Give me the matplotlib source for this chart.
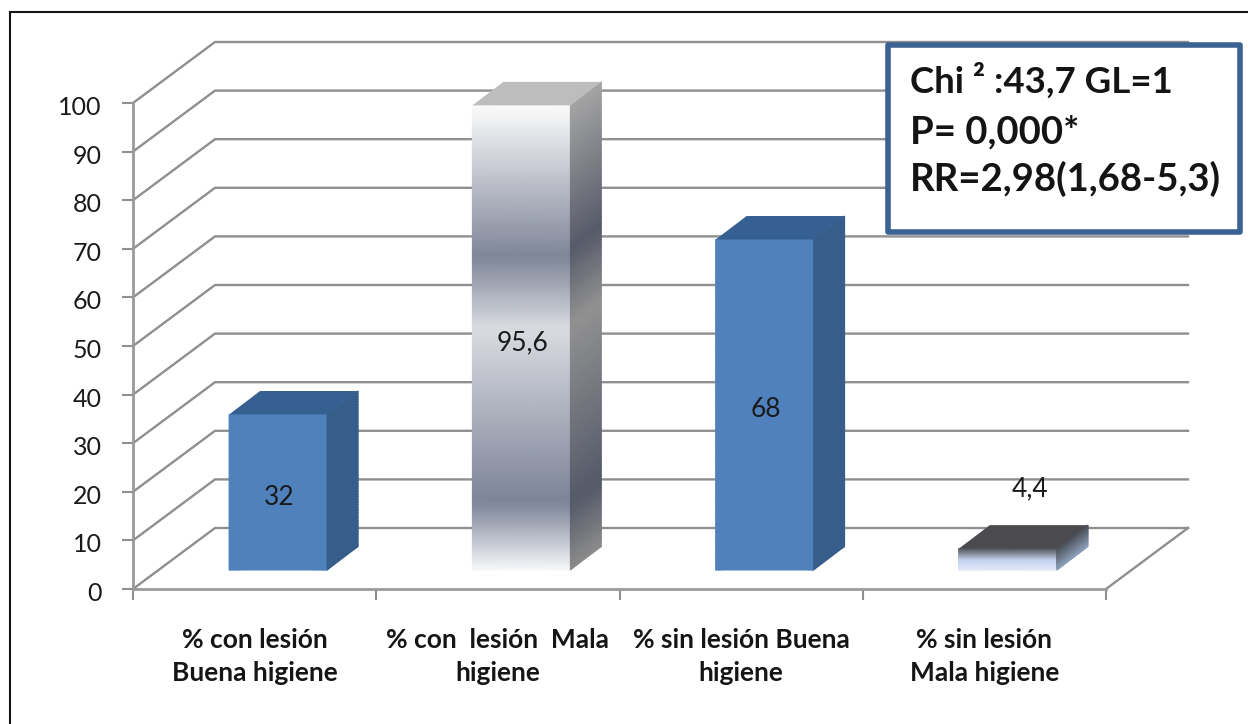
import numpy as np
import matplotlib
matplotlib.use("Agg")
import matplotlib.pyplot as plt
from matplotlib.colors import LinearSegmentedColormap as LSC
from matplotlib.lines import Line2D
from matplotlib.patches import Rectangle, Polygon
from matplotlib.transforms import ScaledTranslation

categories = ["% con lesión\nBuena higiene", "% con  lesión  Mala\nhigiene",
              "% sin lesión Buena\nhigiene", "% sin lesión\nMala higiene"]
values = [32, 95.6, 68, 4.4]
value_labels = ["32", "95,6", "68", "4,4"]
y_ticks = list(range(0, 101, 10))
stats_lines = ["Chi ² :43,7 GL=1", "P= 0,000*", "RR=2,98(1,68-5,3)"]

W, H = 1248, 724
plt.rcParams['font.family'] = ['Lato', 'DejaVu Sans']
fig = plt.figure(figsize=(W / 100, H / 100), dpi=100, facecolor='white')
L, R, B, T = 133, 1106, 589, 103
ax = fig.add_axes([L / W, 1 - B / H, (R - L) / W, (B - T) / H])
ax.set_xlim(0, 4)
ax.set_ylim(0, 100)
ax.patch.set_visible(False)
px = 4 / (R - L)      # data units per pixel, x
py = 100 / (B - T)    # data units per pixel, y

GRID = '#8f8f8f'
wall_dx, wall_dy = 82 * px, 61 * py
for v in y_ticks:
    ax.plot([0, wall_dx, 4 + wall_dx], [v, v + wall_dy, v + wall_dy], color=GRID, lw=1.7,
            clip_on=False, zorder=1, solid_joinstyle='miter')
ax.plot([4, 4 + wall_dx], [0, wall_dy], color=GRID, lw=1.7, clip_on=False, zorder=1)

for s in ['top', 'right']:
    ax.spines[s].set_visible(False)
for s in ['left', 'bottom']:
    ax.spines[s].set_color('#9a9a9a')
    ax.spines[s].set_linewidth(2)
ax.set_yticks(y_ticks)
ax.set_xticks(range(5))
ax.set_xticklabels([])
ax.set_xticks(np.arange(4) + 0.5, categories, minor=True, fontsize=19, fontweight='bold',
              color='#151515', linespacing=1.46)
ax.tick_params(axis='x', which='major', length=8, width=1.5, color=GRID)
ax.tick_params(axis='x', which='minor', length=0, pad=28)
ax.tick_params(axis='y', length=8, width=1.5, color=GRID, labelsize=18, labelcolor='#1a1a1a', pad=14.4)
nudge = ScaledTranslation(0, -2.5 / 100, fig.dpi_scale_trans)
for lab in ax.get_yticklabels():
    lab.set_transform(lab.get_transform() + nudge)

bar_w = 98 * px
bar_off = 23.5 * px
base = 19 * py
depth_x, depth_y = 31 * px, 23.5 * py

blue_front = [(0, '#4f81bd'), (1, '#4f81bd')]
blue_side = [(0, '#375d8b'), (1, '#375d8b')]
gray_front = [(0, '#f6f7f9'), (0.145, '#7c8398'), (0.52, '#dadce1'), (0.675, '#7f8699'), (1, '#fbfbfb')]
gray_side = [(0, '#8c8c8c'), (0.14, '#555a69'), (0.53, '#929292'), (0.69, '#575b69'), (1, '#a4a4a4')]
dark_front = [(0, '#e2eafa'), (0.5, '#c3d3ee'), (1, '#5a5c62')]
dark_side = [(0, '#8fa3bf'), (1, '#4d535c')]
faces = [(blue_front, blue_side, '#376092'), (gray_front, gray_side, '#bdbdbd'),
         (blue_front, blue_side, '#376092'), (dark_front, dark_side, '#4b4b4f')]


def shade(xl, xr, y0, y1, skew, stops, z):
    """Vertical gradient across a quad whose right edge is raised by skew."""
    cmap = LSC.from_list('g', stops)
    f = np.linspace(0, 1, 60)
    Y = y0 + f * (y1 - y0)
    X = np.column_stack([np.full(60, xl), np.full(60, xr)])
    YY = np.column_stack([Y, Y + skew])
    C = np.column_stack([f, f])
    ax.pcolormesh(X, YY, C, cmap=cmap, vmin=0, vmax=1, shading='gouraud', clip_on=False, zorder=z)


for i, (v, (front, side, top)) in enumerate(zip(values, faces)):
    xl = i + 0.5 + bar_off - bar_w / 2
    xr = xl + bar_w
    y0, y1 = base, base + v
    shade(xl, xr, y0, y1, 0, front, 3)
    shade(xr, xr + depth_x, y0, y1, depth_y, side, 3)
    ax.add_patch(Polygon([(xl, y1), (xr, y1), (xr + depth_x, y1 + depth_y), (xl + depth_x, y1 + depth_y)],
                         closed=True, facecolor=top, edgecolor='none', clip_on=False, zorder=3))
    if i < 3:
        lx, ly = i + 0.5 + bar_off + 1 * px, base + v / 2 - 5 * py
    else:
        lx, ly = i + 0.5 + bar_off + 22 * px, base + v + 60 * py
    ax.text(lx, ly, value_labels[i], ha='center', va='center', fontsize=19, color='#1a1a1a', zorder=4)

fig.add_artist(Line2D([9.5 / W, 9.5 / W, 1], [0, 1 - 11.5 / H, 1 - 11.5 / H], transform=fig.transFigure,
                      color='#151515', lw=1.5, zorder=-1, solid_joinstyle='miter'))
fig.add_artist(Rectangle((888 / W, 1 - 232 / H), 352 / W, 187 / H, transform=fig.transFigure,
                         facecolor='white', edgecolor='#3a6292', lw=4, zorder=5, joinstyle='round'))
for line, yb, fs in zip(stats_lines, [93, 143, 191], [26.4, 27.5, 27.5]):
    fig.text(910 / W, 1 - yb / H, line, fontsize=fs, fontweight='bold', color='#141414',
             va='baseline', ha='left', zorder=6)

fig.savefig('out.png', dpi=100)
